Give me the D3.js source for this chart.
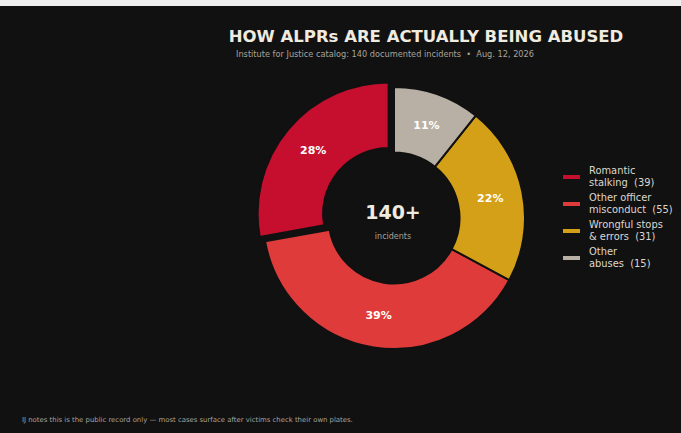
<!DOCTYPE html>
<html><head><meta charset="utf-8">
<script src="https://cdn.jsdelivr.net/npm/d3@7"></script>
<style>html,body{margin:0;padding:0;background:#efefef;}svg{display:block;}text{white-space:pre;}</style>
</head><body>
<script>
const categories = ["Romantic stalking", "Other officer misconduct", "Wrongful stops & errors", "Other abuses"];
const legendLines = [["Romantic", "stalking  (39)"], ["Other officer", "misconduct  (55)"], ["Wrongful stops", "& errors  (31)"], ["Other", "abuses  (15)"]];
const counts = [39, 55, 31, 15];
const colors = ["#c60f2e", "#e03b3b", "#d4a018", "#b8b0a5"];
const explode = [1, 0, 0, 0];

const W = 681, H = 433;
const svg = d3.select("body").append("svg").attr("width", W).attr("height", H);
svg.append("rect").attr("x", 0).attr("y", 0).attr("width", W).attr("height", 6).attr("fill", "#efefef");
svg.append("rect").attr("x", 0).attr("y", 6).attr("width", W).attr("height", H - 6).attr("fill", "#111111");

const font = "DejaVu Sans, sans-serif";
svg.append("text").attr("x", 426).attr("y", 42).attr("text-anchor", "middle")
  .attr("font-family", font).attr("font-weight", "bold").attr("font-size", 16.5)
  .attr("fill", "#f0ebe0").text("HOW ALPRs ARE ACTUALLY BEING ABUSED");
svg.append("text").attr("x", 385).attr("y", 57).attr("text-anchor", "middle")
  .attr("font-family", font).attr("font-size", 8.2)
  .attr("fill", "#a8a39b").text("Institute for Justice catalog: 140 documented incidents  \u2022  Aug. 12, 2026");
svg.append("text").attr("x", 22).attr("y", 422)
  .attr("font-family", font).attr("font-size", 6.9)
  .attr("fill", "#a8a39b").text("IJ notes this is the public record only \u2014 most cases surface after victims check their own plates.");

const cx = 394, cy = 218, R = 131, r = R * 0.5, boom = 7;
const total = d3.sum(counts);
const pie = d3.pie().sort(null).startAngle(0).endAngle(-2 * Math.PI);
const arcs = pie(counts);
const arc = d3.arc().innerRadius(r).outerRadius(R);
const labelArc = d3.arc().innerRadius(R * 0.75).outerRadius(R * 0.75);

const g = svg.append("g").attr("transform", `translate(${cx},${cy})`);
const slices = g.selectAll("g.slice").data(arcs).join("g")
  .attr("transform", (d, i) => {
    const m = (d.startAngle + d.endAngle) / 2;
    const o = explode[i] * boom;
    return `translate(${Math.sin(m) * o},${-Math.cos(m) * o})`;
  });
slices.append("path").attr("d", arc).attr("fill", (d, i) => colors[i])
  .attr("stroke", "#111111").attr("stroke-width", 2).attr("stroke-linejoin", "miter");
slices.append("text")
  .attr("transform", d => `translate(${labelArc.centroid(d)})`)
  .attr("text-anchor", "middle").attr("dominant-baseline", "central")
  .attr("font-family", font).attr("font-weight", "bold").attr("font-size", 11)
  .attr("fill", "#ffffff").text(d => Math.round(d.data / total * 100) + "%");

g.append("text").attr("x", -1).attr("y", -6).attr("text-anchor", "middle").attr("dominant-baseline", "central")
  .attr("font-family", font).attr("font-weight", "bold").attr("font-size", 19)
  .attr("fill", "#f0ebe0").text("140+");
g.append("text").attr("x", -1).attr("y", 18).attr("text-anchor", "middle").attr("dominant-baseline", "central")
  .attr("font-family", font).attr("font-size", 8)
  .attr("fill", "#a8a39b").text("incidents");

const leg = svg.append("g");
const ly = d3.scalePoint().domain(categories).range([177, 258]);
categories.forEach((c, i) => {
  const y = ly(c);
  leg.append("rect").attr("x", 563).attr("y", y - 2).attr("width", 17).attr("height", 4).attr("fill", colors[i]);
  const t = leg.append("text").attr("font-family", font).attr("font-size", 9.9).attr("fill", "#dcd7cf");
  t.append("tspan").attr("x", 589).attr("y", y - 3).text(legendLines[i][0]);
  t.append("tspan").attr("x", 589).attr("y", y + 9).text(legendLines[i][1]);
});
</script>
</body></html>
